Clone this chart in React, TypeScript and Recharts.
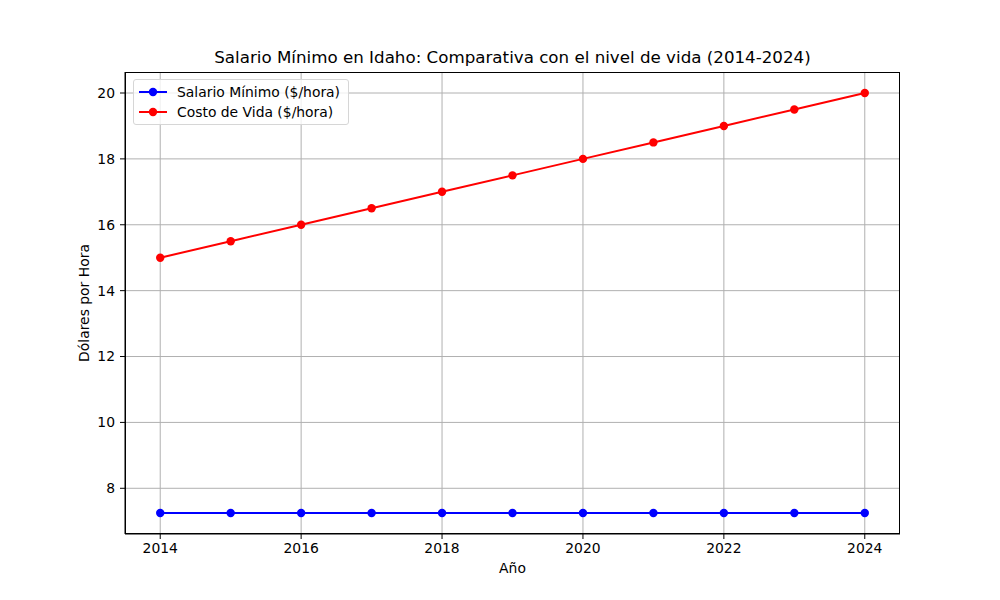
import React from "react";
import { LineChart, Line, XAxis, YAxis, CartesianGrid } from "recharts";

// Salario mínimo federal (7.25) frente a costo de vida estimado, Idaho 2014-2024
const YEARS = [2014, 2015, 2016, 2017, 2018, 2019, 2020, 2021, 2022, 2023, 2024];
const MIN_WAGE = [7.25, 7.25, 7.25, 7.25, 7.25, 7.25, 7.25, 7.25, 7.25, 7.25, 7.25];
const COST_OF_LIVING = [15, 15.5, 16, 16.5, 17, 17.5, 18, 18.5, 19, 19.5, 20];
const X_TICKS = [2014, 2016, 2018, 2020, 2022, 2024];
const Y_TICKS = [8, 10, 12, 14, 16, 18, 20];

const SERIES = [
  { key: "salario", name: "Salario Mínimo ($/hora)", color: "#0000ff" },
  { key: "costo", name: "Costo de Vida ($/hora)", color: "#ff0000" },
];

const data = YEARS.map((y, i) => ({ year: y, salario: MIN_WAGE[i], costo: COST_OF_LIVING[i] }));

const FONT = "'DejaVu Sans', sans-serif";
const TICK = { fill: "#000", fontSize: 13.9, fontFamily: FONT };

function LegendBox() {
  return (
    <div
      style={{
        position: "absolute", left: 133, top: 79,
        background: "rgba(255,255,255,0.8)",
        border: "1px solid #d6d6d6",
        borderRadius: 3,
        padding: "2px 8px 2px 3px",
        fontFamily: FONT,
        fontSize: 13.9,
        lineHeight: "20px",
        color: "#000",
      }}
    >
      {SERIES.map((s) => (
        <div key={s.key} style={{ display: "flex", alignItems: "center" }}>
          <svg width={32} height={20} style={{ marginRight: 8 }}>
            <line x1={2} y1={10} x2={30} y2={10} stroke={s.color} strokeWidth={2} />
            <circle cx={16} cy={10} r={4.2} fill={s.color} />
          </svg>
          <span>{s.name}</span>
        </div>
      ))}
    </div>
  );
}

export default function App() {
  const yMin = 7.25 - 0.05 * 12.75;
  const yMax = 20 + 0.05 * 12.75;
  return (
    <div style={{ position: "fixed", left: 0, top: 0, width: 1000, height: 600, background: "#fff" }}>
      <div
        style={{
          position: "absolute", top: 47, left: 0, width: 1025, textAlign: "center",
          fontFamily: FONT, fontSize: 16.7, color: "#000",
        }}
      >
        Salario Mínimo en Idaho: Comparativa con el nivel de vida (2014-2024)
      </div>
      <LineChart
        width={1000}
        height={600}
        data={data}
        margin={{ top: 72, right: 100, left: 65, bottom: 36 }}
      >
        <CartesianGrid stroke="#b0b0b0" strokeWidth={1} horizontalValues={Y_TICKS} verticalValues={X_TICKS} />
        <XAxis
          dataKey="year"
          type="number"
          domain={[2013.5, 2024.5]}
          ticks={X_TICKS}
          height={30}
          tick={TICK}
          tickSize={5}
          tickMargin={4}
          stroke="#000"
          allowDataOverflow
        />
        <YAxis
          type="number"
          domain={[yMin, yMax]}
          ticks={Y_TICKS}
          width={60}
          tick={TICK}
          tickSize={5}
          tickMargin={5}
          stroke="#000"
          allowDataOverflow
        />
        {SERIES.map((s) => (
          <Line
            key={s.key}
            dataKey={s.key}
            name={s.name}
            type="linear"
            stroke={s.color}
            strokeWidth={2}
            dot={{ r: 4.2, fill: s.color, stroke: s.color, strokeWidth: 0 }}
            isAnimationActive={false}
          />
        ))}
      </LineChart>
      <div
        style={{
          position: "absolute", left: 125, top: 72, width: 775, height: 462,
          border: "1px solid #000", boxSizing: "border-box", pointerEvents: "none",
        }}
      />
      <LegendBox />
      <div
        style={{
          position: "absolute", top: 560, left: 125, width: 775, textAlign: "center",
          fontFamily: FONT, fontSize: 13.9, color: "#000",
        }}
      >
        Año
      </div>
      <div
        style={{
          position: "absolute", left: 84, top: 303, transform: "translate(-50%, -50%) rotate(-90deg)",
          whiteSpace: "nowrap", fontFamily: FONT, fontSize: 13.9, color: "#000",
        }}
      >
        Dólares por Hora
      </div>
    </div>
  );
}
